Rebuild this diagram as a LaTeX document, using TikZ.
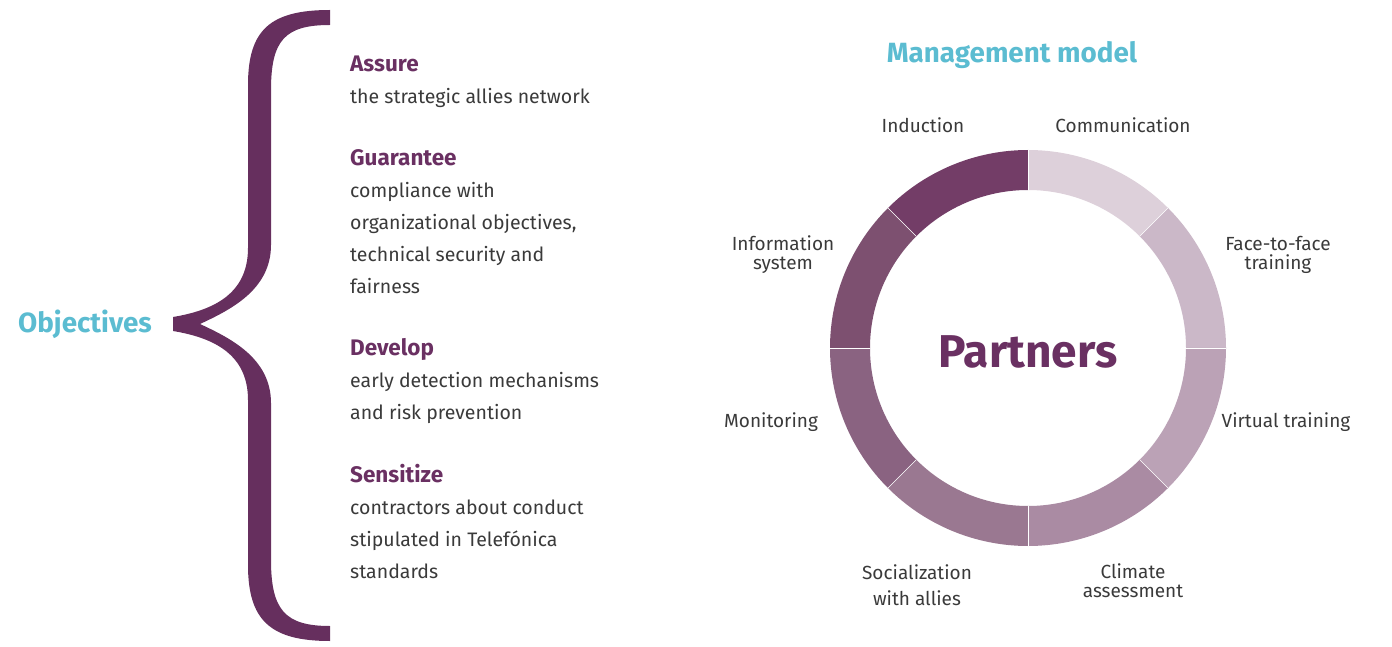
\documentclass[tikz,border=0pt]{standalone}
\usepackage{fontspec}
\setmainfont{Fira Sans}
\definecolor{brace}{HTML}{662F5E}
\definecolor{headcol}{HTML}{6A3062}
\definecolor{teal}{HTML}{5BBCD1}
\definecolor{bodycol}{HTML}{3A3A3A}
\definecolor{segA}{HTML}{DDD0DA}
\definecolor{segB}{HTML}{CBB8C8}
\definecolor{segC}{HTML}{BBA2B6}
\definecolor{segD}{HTML}{AA8BA3}
\definecolor{segE}{HTML}{9A7891}
\definecolor{segF}{HTML}{8A6381}
\definecolor{segG}{HTML}{7D5070}
\definecolor{segH}{HTML}{733D67}
\tikzset{
  objhead/.style={anchor=base west, inner sep=0pt, text=headcol, font=\fontsize{22.5}{32}\selectfont\bfseries},
  objtext/.style={anchor=base west, inner sep=0pt, text=bodycol, align=left, font=\fontsize{19.5}{32}\selectfont},
  seglabel/.style={inner sep=0pt, text=bodycol, align=center, font=\fontsize{19}{19}\selectfont},
  bigtitle/.style={inner sep=0pt, text=teal, font=\fontsize{27.8}{30}\selectfont\bfseries}
}
\begin{document}
\begin{tikzpicture}[x=1pt, y=1pt]
    \useasboundingbox (0,0) rectangle (1392,646);
    % brace
    \fill[brace] (330,636) -- (330,621)
        .. controls (285,621) and (271,606) .. (271,556) -- (271,401)
        .. controls (271,356) and (230,336) .. (200,322)
        .. controls (230,308) and (271,288) .. (271,243) -- (271,86)
        .. controls (271,36) and (285,20) .. (330,20) -- (330,5)
        .. controls (270,5) and (248,26) .. (248,81) -- (248,246)
        .. controls (248,291) and (215,308) .. (173,315) -- (173,329)
        .. controls (215,336) and (248,353) .. (248,398) -- (248,561)
        .. controls (248,616) and (270,636) .. (330,636) -- cycle;
    \node[bigtitle] (objectives) at (85,322) {Objectives};
    % objectives (multi-line texts sit on the baseline of their last line)
    \node[objhead] (assure) at (350,574) {Assure};
    \node[objtext] (assuretxt) at (350,542) {the strategic allies network};
    \node[objhead] (guarantee) at (350,480) {Guarantee};
    \node[objtext] (guaranteetxt) at (350,352) {compliance with\\organizational objectives,\\technical security and\\fairness};
    \node[objhead] (develop) at (350,290) {Develop};
    \node[objtext] (developtxt) at (350,226) {early detection mechanisms\\and risk prevention};
    \node[objhead] (sensitize) at (350,164) {Sensitize};
    \node[objtext] (sensitizetxt) at (350,68) {contractors about conduct\\stipulated in Telefónica\\standards};
    % management model ring
    \node[bigtitle] (model) at (1012,591) {Management model};
    \begin{scope}[shift={(1028,298)}]
        \foreach \a/\b/\c in {90/45/segA, 45/0/segB, 0/-45/segC, -45/-90/segD,
                              -90/-135/segE, -135/-180/segF, 180/135/segG, 135/90/segH}
            \fill[\c] (\a:198) arc[start angle=\a, end angle=\b, radius=198]
                -- (\b:158) arc[start angle=\b, end angle=\a, radius=158] -- cycle;
        \foreach \a in {0,45,...,315}
            \draw[white, line width=0.6pt] (\a:158) -- (\a:198);
    \end{scope}
    \node[inner sep=0pt, text=headcol, font=\fontsize{46}{50}\selectfont\bfseries] (partners) at (1028,294) {Partners};
    \node[seglabel] (induction) at (923,521) {Induction};
    \node[seglabel] (communication) at (1123,521) {Communication};
    \node[seglabel] (information) at (783,391) {Information\\system};
    \node[seglabel] (facetoface) at (1278,391) {Face-to-face\\training};
    \node[seglabel] (monitoring) at (771,224) {Monitoring};
    \node[seglabel] (virtual) at (1286,224) {Virtual training};
    \node[seglabel, font=\fontsize{19}{26}\selectfont] (socialization) at (917,61) {Socialization\\with allies};
    \node[seglabel] (climate) at (1133,65) {Climate\\assessment};
\end{tikzpicture}
\end{document}
